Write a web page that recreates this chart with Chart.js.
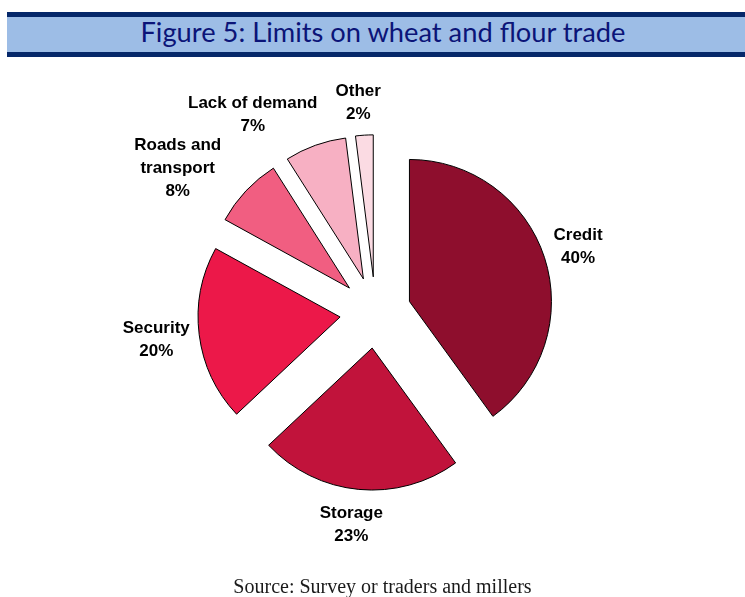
<!DOCTYPE html>
<html>
<head>
<meta charset="utf-8">
<script src="https://cdn.jsdelivr.net/npm/chart.js@4.4.1/dist/chart.umd.min.js"></script>
<style>
  html, body { margin: 0; padding: 0; background: #fff; }
  body { width: 745px; height: 597px; position: relative; overflow: hidden; }
  #titleBar {
    position: absolute; left: 7px; top: 12px; width: 738px; height: 35px;
    background: #9dbde6; border-top: 5px solid #06286a; border-bottom: 5px solid #06286a;
  }
  #titleText {
    position: absolute; left: 375.5px; top: -2.5px; line-height: 35px;
    font-family: Lato, "Noto Sans", sans-serif; font-size: 26px; color: #0b1478;
    white-space: nowrap; transform-origin: center; transform: translateX(-50%);
  }
  #source {
    position: absolute; left: 0; width: 765px; top: 576px; line-height: 20px; text-align: center;
    font-family: "Liberation Serif", "DejaVu Serif", serif; font-size: 20px; color: #1a1a1a;
  }
  #chartBox { position: absolute; left: 0; top: 0; width: 745px; height: 597px; }
</style>
</head>
<body>
<div id="chartBox"><canvas id="pie"></canvas></div>
<div id="titleBar"><span id="titleText">Figure 5: Limits on wheat and flour trade</span></div>
<div id="source">Source: Survey or traders and millers</div>
<script>
const categories = ["Credit", "Storage", "Security", "Roads and transport", "Lack of demand", "Other"];
const labelLines = [["Credit"], ["Storage"], ["Security"], ["Roads and", "transport"], ["Lack of demand"], ["Other"]];
const shares = [40, 23, 20, 8, 7, 2];
const sliceColors = ["#8e0e2d", "#c1133b", "#ec1849", "#f15e81", "#f7b0c3", "#fbdbe3"];

// label anchors: angle nudge (deg) from the slice middle, distance from pie centre (px)
const labelNudge = [0, 1.1, 0, -7.2, -12, -1.1];
const labelDistance = [213, 214, 221, 244.5, 233, 210.5];

// fit title to the width it has in the figure
const titleEl = document.getElementById("titleText");
const titleWidth = titleEl.getBoundingClientRect().width;
titleEl.style.transform = `translateX(-50%) scaleX(${485 / titleWidth})`;

// pull every slice out from the centre by the same distance, radius unchanged
const explodePlugin = {
  id: "explodeSlices",
  afterDatasetUpdate(chart, args, options) {
    args.meta.data.forEach((arc) => {
      const baseDraw = Object.getPrototypeOf(arc).draw;
      arc.draw = function (ctx, area) {
        const mid = (this.startAngle + this.endAngle) / 2;
        ctx.save();
        ctx.translate(Math.cos(mid) * options.distance, Math.sin(mid) * options.distance);
        baseDraw.call(this, ctx, area);
        ctx.restore();
      };
    });
  },
};

const sliceLabelPlugin = {
  id: "sliceLabels",
  afterDatasetsDraw(chart, _args, options) {
    const { ctx } = chart;
    const arcs = chart.getDatasetMeta(0).data;
    ctx.save();
    ctx.font = options.font;
    ctx.fillStyle = options.color;
    ctx.textAlign = "center";
    ctx.textBaseline = "middle";
    arcs.forEach((arc, i) => {
      const mid = (arc.startAngle + arc.endAngle) / 2 + (labelNudge[i] * Math.PI) / 180;
      const x = arc.x + Math.cos(mid) * labelDistance[i];
      const y = arc.y + Math.sin(mid) * labelDistance[i];
      const lines = [...labelLines[i], `${shares[i]}%`];
      const top = y - ((lines.length - 1) * options.lineHeight) / 2;
      lines.forEach((line, j) => ctx.fillText(line, x, top + j * options.lineHeight));
    });
    ctx.restore();
  },
};

new Chart(document.getElementById("pie"), {
  type: "pie",
  data: {
    labels: categories,
    datasets: [
      {
        data: shares,
        backgroundColor: sliceColors,
        borderColor: "#000",
        borderWidth: 1,
        borderJoinStyle: "miter",
        radius: 142,
        clip: false,
      },
    ],
  },
  options: {
    responsive: true,
    maintainAspectRatio: false,
    animation: false,
    events: [],
    layout: { padding: { left: 6, right: 0, top: 28, bottom: 0 } },
    plugins: {
      legend: { display: false },
      tooltip: { enabled: false },
      explodeSlices: { distance: 35.7 },
      sliceLabels: {
        font: "bold 17px 'Liberation Sans', Arial, sans-serif",
        color: "#000",
        lineHeight: 23,
      },
    },
  },
  plugins: [explodePlugin, sliceLabelPlugin],
});
</script>
</body>
</html>
